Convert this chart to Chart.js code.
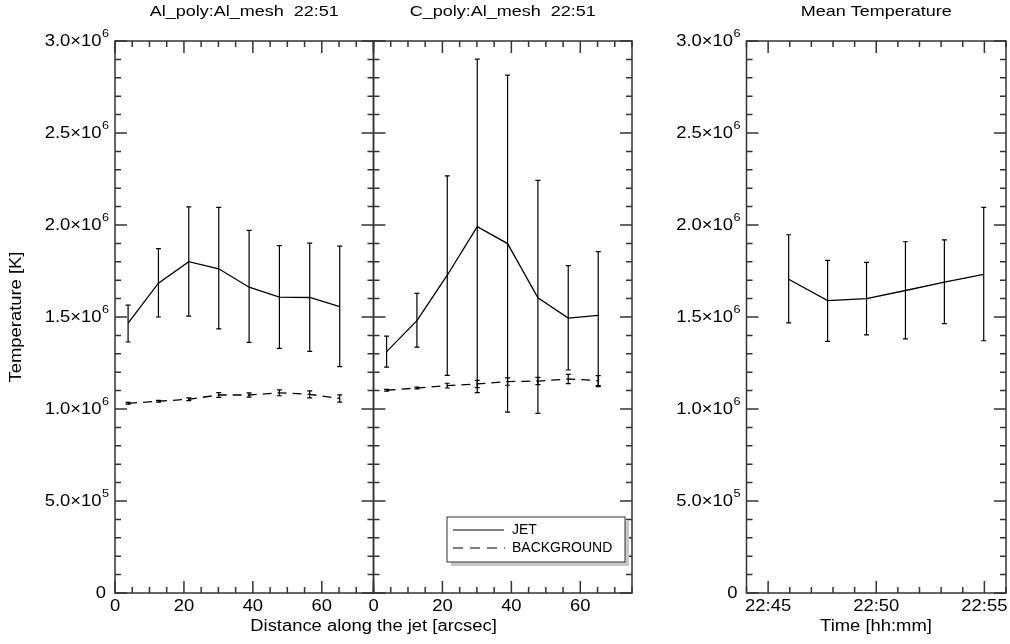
<!DOCTYPE html>
<html>
<head>
<meta charset="utf-8">
<script src="https://cdn.jsdelivr.net/npm/chart.js@4.4.1/dist/chart.umd.min.js"></script>
<style>
  html, body { margin: 0; padding: 0; background: #fff; }
  #wrap { position: relative; width: 1010px; height: 644px; }
  #wrap canvas { position: absolute; left: 0; top: 0; }
</style>
</head>
<body>
<div id="wrap">
  <canvas id="c1" width="1010" height="644" style="width:1010px;height:644px"></canvas>
  <canvas id="c2" width="1010" height="644" style="width:1010px;height:644px"></canvas>
  <canvas id="c3" width="1010" height="644" style="width:1010px;height:644px"></canvas>
</div>
<script>
// distance along the jet [arcsec]
const distance = [3.8, 12.6, 21.4, 30.1, 38.9, 47.7, 56.5, 65.2];

// Al_poly:Al_mesh
const alJet   = [1.467e6, 1.684e6, 1.801e6, 1.762e6, 1.662e6, 1.608e6, 1.606e6, 1.556e6];
const alJetLo = [1.364e6, 1.500e6, 1.505e6, 1.435e6, 1.362e6, 1.330e6, 1.313e6, 1.230e6];
const alJetHi = [1.565e6, 1.872e6, 2.098e6, 2.096e6, 1.971e6, 1.888e6, 1.901e6, 1.885e6];
const alBg    = [1.031e6, 1.042e6, 1.053e6, 1.076e6, 1.076e6, 1.088e6, 1.080e6, 1.057e6];
const alBgErr = [0.005e6, 0.005e6, 0.007e6, 0.013e6, 0.012e6, 0.016e6, 0.019e6, 0.020e6];

// C_poly:Al_mesh
const cJet   = [1.312e6, 1.480e6, 1.727e6, 1.991e6, 1.899e6, 1.604e6, 1.494e6, 1.509e6];
const cJetLo = [1.228e6, 1.336e6, 1.183e6, 1.089e6, 0.983e6, 0.976e6, 1.212e6, 1.122e6];
const cJetHi = [1.396e6, 1.628e6, 2.267e6, 2.901e6, 2.815e6, 2.242e6, 1.779e6, 1.855e6];
const cBg    = [1.102e6, 1.114e6, 1.127e6, 1.136e6, 1.149e6, 1.152e6, 1.163e6, 1.154e6];
const cBgErr = [0.005e6, 0.005e6, 0.013e6, 0.020e6, 0.020e6, 0.020e6, 0.025e6, 0.027e6];

// mean temperature, time in minutes after 22:00
const meanTime = [45.95, 47.75, 49.55, 51.35, 53.15, 54.97];
const meanTemp = [1.705e6, 1.589e6, 1.600e6, 1.644e6, 1.689e6, 1.732e6];
const meanLo   = [1.468e6, 1.368e6, 1.403e6, 1.381e6, 1.464e6, 1.371e6];
const meanHi   = [1.947e6, 1.808e6, 1.797e6, 1.909e6, 1.919e6, 2.096e6];

// axes
const yTicks = [0, 5e5, 1e6, 1.5e6, 2e6, 2.5e6, 3e6];
const yTickLabels = ['0', '5.0×10^5', '1.0×10^6', '1.5×10^6', '2.0×10^6', '2.5×10^6', '3.0×10^6'];
const distTicks = [0, 20, 40, 60];
const distTickLabels = ['0', '20', '40', '60'];
const timeTicks = [45, 50, 55];
const timeTickLabels = ['22:45', '22:50', '22:55'];

const FONT = "'Liberation Sans', Arial, Helvetica, sans-serif";
const INK = '#000';
const FRAME = '#333';
const SX = 1.15; // the original lettering is a bit wider than Arial

function pts(xs, ys) { return xs.map((x, i) => ({ x: x, y: ys[i] })); }
function minus(a, e) { return a.map((v, i) => v - e[i]); }
function plus(a, e) { return a.map((v, i) => v + e[i]); }

// text drawn with a horizontal stretch
function txt(ctx, s, x, y, size, align, sx) {
  ctx.save();
  ctx.translate(x, y);
  ctx.scale(sx || SX, 1);
  ctx.font = size + 'px ' + FONT;
  ctx.textAlign = align;
  ctx.textBaseline = 'middle';
  ctx.fillText(s, 0, 0);
  ctx.restore();
}
function txtWidth(ctx, s, size, sx) {
  ctx.font = size + 'px ' + FONT;
  return ctx.measureText(s).width * (sx || SX);
}

// vertical error bars with small caps
const errorBars = {
  id: 'errorBars',
  afterDatasetsDraw(chart) {
    const ctx = chart.ctx, xs = chart.scales.x, ys = chart.scales.y;
    ctx.save();
    ctx.strokeStyle = INK;
    ctx.lineWidth = 1.2;
    ctx.setLineDash([]);
    chart.data.datasets.forEach(ds => {
      if (!ds.errLo) return;
      ds.data.forEach((p, i) => {
        const px = xs.getPixelForValue(p.x);
        const y1 = ys.getPixelForValue(ds.errLo[i]);
        const y2 = ys.getPixelForValue(ds.errHi[i]);
        ctx.beginPath();
        ctx.moveTo(px, y1); ctx.lineTo(px, y2);
        ctx.moveTo(px - 2.5, y1); ctx.lineTo(px + 2.5, y1);
        ctx.moveTo(px - 2.5, y2); ctx.lineTo(px + 2.5, y2);
        ctx.stroke();
      });
    });
    ctx.restore();
  }
};

function drawYLabel(ctx, text, x, y) {
  const parts = text.split('^');
  if (parts.length === 1) {
    txt(ctx, parts[0], x - 3, y + 1, 16, 'right');
    return;
  }
  const ew = txtWidth(ctx, parts[1], 11);
  txt(ctx, parts[1], x - ew, y - 7, 11, 'left');
  txt(ctx, parts[0], x - ew - 0.5, y + 1, 16, 'right');
}

// frame, inward ticks on all sides, labels, titles, legend
const panelFrame = {
  id: 'panelFrame',
  afterDraw(chart, args, o) {
    const ctx = chart.ctx, a = chart.chartArea, xs = chart.scales.x, ys = chart.scales.y;
    ctx.save();
    ctx.strokeStyle = FRAME;
    ctx.lineWidth = 1.5;
    ctx.strokeRect(a.left, a.top, a.right - a.left, a.bottom - a.top);

    ctx.beginPath();
    for (let v = xs.min; v <= xs.max + 1e-9; v += o.xMinor) {
      const px = xs.getPixelForValue(v);
      const major = o.xTicks.some(t => Math.abs(t - v) < 1e-6);
      const len = major ? 12 : 6;
      ctx.moveTo(px, a.bottom); ctx.lineTo(px, a.bottom - len);
      ctx.moveTo(px, a.top); ctx.lineTo(px, a.top + len);
    }
    for (let v = 0; v <= ys.max + 1; v += 1e5) {
      const py = ys.getPixelForValue(v);
      const major = yTicks.some(t => Math.abs(t - v) < 1);
      const len = major ? 12 : 6;
      ctx.moveTo(a.left, py); ctx.lineTo(a.left + len, py);
      ctx.moveTo(a.right, py); ctx.lineTo(a.right - len, py);
    }
    ctx.stroke();

    ctx.fillStyle = INK;
    o.xTicks.forEach((t, i) => {
      txt(ctx, o.xLabels[i], xs.getPixelForValue(t), a.bottom + 14, 16, 'center');
    });

    if (o.yLabels) {
      yTicks.forEach((t, i) => drawYLabel(ctx, yTickLabels[i], a.left - 6, ys.getPixelForValue(t)));
    }

    txt(ctx, o.title, (a.left + a.right) / 2, 12, 15, 'center', 1.2);

    if (o.xTitle) {
      txt(ctx, o.xTitle, o.xTitleX, 627, 16, 'center');
    }

    if (o.yTitle) {
      ctx.save();
      ctx.translate(17, (a.top + a.bottom) / 2);
      ctx.rotate(-Math.PI / 2);
      txt(ctx, o.yTitle, 0, 0, 16, 'center');
      ctx.restore();
    }

    if (o.legend) {
      const bx = a.right - 185, by = a.bottom - 76, bw = 178, bh = 45;
      ctx.fillStyle = '#c8c8c8';
      ctx.fillRect(bx + 4, by + 4, bw, bh);
      ctx.fillStyle = '#fff';
      ctx.fillRect(bx, by, bw, bh);
      ctx.strokeStyle = FRAME;
      ctx.lineWidth = 1;
      ctx.strokeRect(bx, by, bw, bh);
      ctx.strokeStyle = INK;
      ctx.lineWidth = 1.2;
      ctx.beginPath();
      ctx.moveTo(bx + 6, by + 13); ctx.lineTo(bx + 57, by + 13);
      ctx.stroke();
      ctx.setLineDash([10, 7]);
      ctx.beginPath();
      ctx.moveTo(bx + 6, by + 31); ctx.lineTo(bx + 58, by + 31);
      ctx.stroke();
      ctx.setLineDash([]);
      ctx.fillStyle = INK;
      txt(ctx, 'JET', bx + 65, by + 13, 14, 'left', 1.0);
      txt(ctx, 'BACKGROUND', bx + 65, by + 31, 14, 'left', 1.0);
    }
    ctx.restore();
  }
};

function lineSet(data, lo, hi, dashed) {
  return {
    data: data, errLo: lo, errHi: hi,
    borderColor: INK, borderWidth: 1.3, borderDash: dashed ? [9, 6] : [],
    pointRadius: 0, fill: false, tension: 0
  };
}

function makePanel(id, left, right, xMin, xMax, datasets, panel) {
  return new Chart(document.getElementById(id), {
    type: 'line',
    data: { datasets: datasets },
    options: {
      responsive: false,
      animation: false,
      layout: { padding: { left: left, right: 1010 - right, top: 41, bottom: 644 - 593 } },
      scales: {
        x: { type: 'linear', min: xMin, max: xMax, display: false },
        y: { type: 'linear', min: 0, max: 3e6, display: false }
      },
      plugins: { legend: { display: false }, tooltip: { enabled: false }, panelFrame: panel }
    },
    plugins: [errorBars, panelFrame]
  });
}

makePanel('c1', 115, 373.5, 0, 75, [
  lineSet(pts(distance, alJet), alJetLo, alJetHi, false),
  lineSet(pts(distance, alBg), minus(alBg, alBgErr), plus(alBg, alBgErr), true)
], {
  title: 'Al_poly:Al_mesh  22:51', xTicks: distTicks, xLabels: distTickLabels, xMinor: 5,
  yLabels: true, yTitle: 'Temperature [K]'
});

makePanel('c2', 373.5, 632, 0, 75, [
  lineSet(pts(distance, cJet), cJetLo, cJetHi, false),
  lineSet(pts(distance, cBg), minus(cBg, cBgErr), plus(cBg, cBgErr), true)
], {
  title: 'C_poly:Al_mesh  22:51', xTicks: distTicks, xLabels: distTickLabels, xMinor: 5,
  yLabels: false, xTitle: 'Distance along the jet [arcsec]', xTitleX: 373.5, legend: true
});

makePanel('c3', 746.5, 1006, 44, 56, [
  lineSet(pts(meanTime, meanTemp), meanLo, meanHi, false)
], {
  title: 'Mean Temperature', xTicks: timeTicks, xLabels: timeTickLabels, xMinor: 1,
  yLabels: true, xTitle: 'Time [hh:mm]', xTitleX: 876
});
</script>
</body>
</html>
